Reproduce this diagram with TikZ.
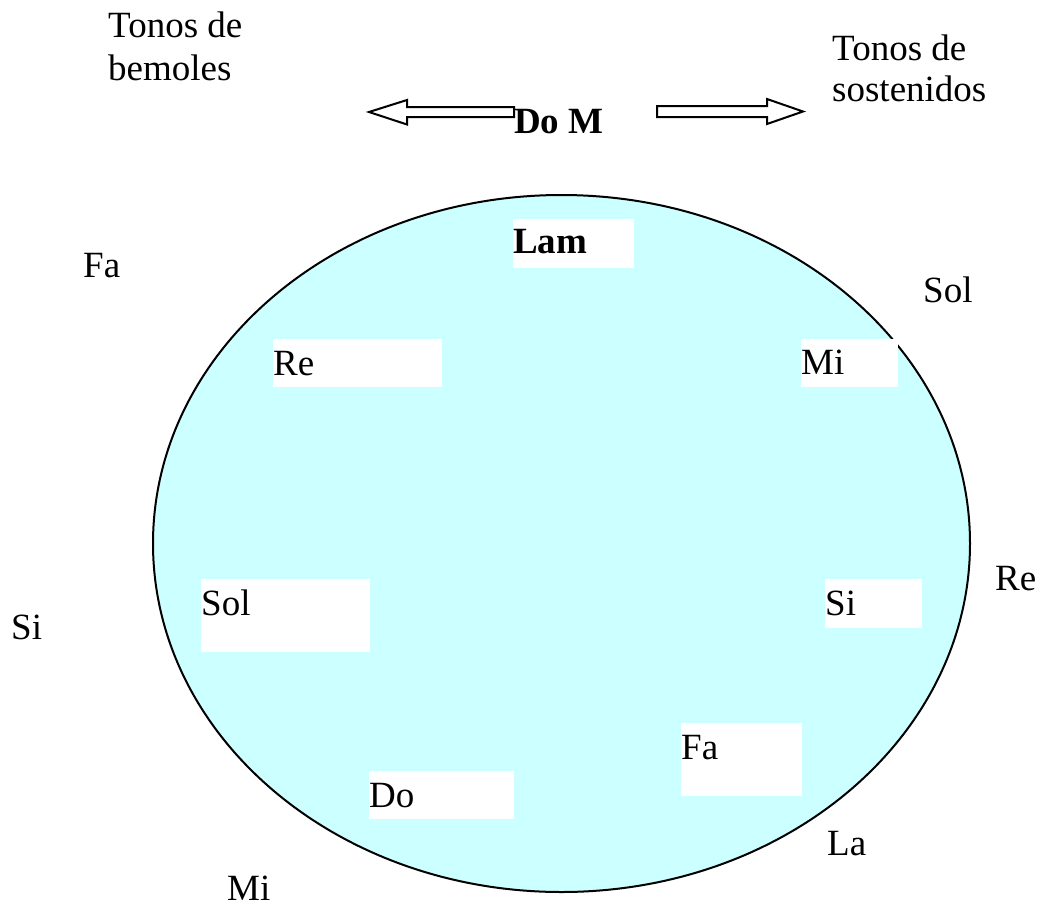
\documentclass[tikz,border=0pt]{standalone}
\usepackage{fontspec}
\setmainfont{Liberation Serif}
\usetikzlibrary{shapes.geometric}
\definecolor{cyanfill}{RGB}{204,255,255}
\begin{document}
\begin{tikzpicture}[x=1pt,y=-1pt,
  lbl/.style={anchor=base west,inner sep=0pt,font=\fontsize{37}{43}\selectfont},
  blbl/.style={lbl,font=\fontsize{37}{43}\selectfont\bfseries},
  wbox/.style={anchor=north west,fill=white,draw=none,inner sep=0pt},
  bigarrow/.style={draw=black,line width=2pt,fill=white,line join=miter}]
\useasboundingbox (0,0) rectangle (1042,906);
% ellipse
\node[draw=black,line width=2pt,fill=cyanfill,ellipse,minimum width=817pt,minimum height=697pt,inner sep=0pt] (circ) at (561.5,543.5) {};
% top text
\node[lbl] (bem1) at (108,37) {Tonos de};
\node[lbl] (bem2) at (108,80) {bemoles};
\node[lbl] (sos1) at (832,60) {Tonos de};
\node[lbl] (sos2) at (832,101) {sostenidos};
\node[blbl] (dom) at (514,133) {Do M};
% arrows
\draw[bigarrow] (514,107) -- (407,107) -- (407,100) -- (369,112) -- (407,124.5) -- (407,117) -- (514,117) -- cycle;
\draw[bigarrow] (657,106) -- (767,106) -- (767,99) -- (803,111.5) -- (767,124) -- (767,117) -- (657,117) -- cycle;
% white boxes
\node[wbox,minimum width=121pt,minimum height=49pt] (blam) at (513,219) {};
\node[wbox,minimum width=169pt,minimum height=48pt] (bre) at (273,339) {};
\node[wbox,minimum width=97pt,minimum height=48pt] (bmi) at (801,339) {};
\node[wbox,minimum width=169pt,minimum height=73pt] (bsol) at (201,579) {};
\node[wbox,minimum width=97pt,minimum height=49pt] (bsi) at (825,579) {};
\node[wbox,minimum width=121pt,minimum height=73pt] (bfa) at (681,723) {};
\node[wbox,minimum width=145pt,minimum height=48pt] (bdo) at (369,771) {};
% texts in boxes
\node[blbl] (tlam) at ([yshift=-34pt]blam.north west) {Lam};
\node[lbl] (tre) at ([yshift=-36pt]bre.north west) {Re};
\node[lbl] (tmi) at ([yshift=-35pt]bmi.north west) {Mi};
\node[lbl] (tsol) at ([yshift=-36pt]bsol.north west) {Sol};
\node[lbl] (tsi) at ([yshift=-36pt]bsi.north west) {Si};
\node[lbl] (tfa) at ([yshift=-36pt]bfa.north west) {Fa};
\node[lbl] (tdo) at ([yshift=-36pt]bdo.north west) {Do};
% outer labels
\node[lbl] (ofa) at (83,277) {Fa};
\node[lbl] (osol) at (923,302) {Sol};
\node[lbl] (ore) at (995,590) {Re};
\node[lbl] (osi) at (11,639) {Si};
\node[lbl] (ola) at (827,855) {La};
\node[lbl] (omi) at (227,900) {Mi};
\end{tikzpicture}
\end{document}
